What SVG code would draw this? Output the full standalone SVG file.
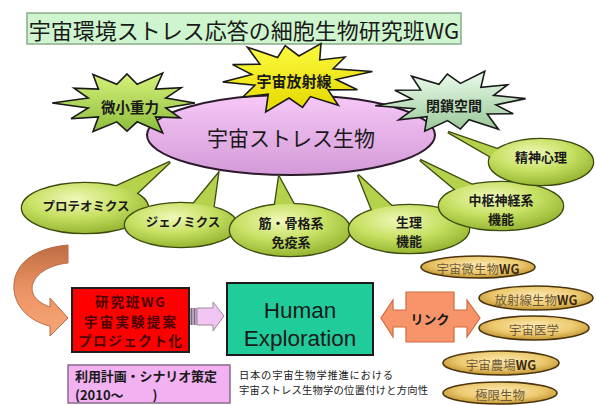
<svg xmlns="http://www.w3.org/2000/svg" width="596" height="405" viewBox="0 0 596 405">
<style>
.j{font-family:"Noto Sans CJK JP","Noto Sans",sans-serif;text-anchor:middle;dominant-baseline:central;fill:#1a1a1a}
.b{font-weight:bold}
.star{stroke:#1a1a1a;stroke-width:1.6;vector-effect:non-scaling-stroke;stroke-linejoin:miter}
.cs{fill:#a8c840;stroke:#3d4a10;stroke-width:2.6}
.cf{stroke:none}
.tail{fill:#b4d24c}
.ell{fill:url(#gGreen)}
.gold{fill:url(#gGold);stroke:#4a3510;stroke-width:1.6}
.gt{font-family:"Noto Sans CJK JP","Noto Sans",sans-serif;text-anchor:middle;dominant-baseline:central;fill:#6e5a3a;font-size:12.5px}
.red{fill:#4a0000}
</style>
<defs>
<radialGradient id="gGreen" cx="0.42" cy="0.32" r="0.75">
<stop offset="0" stop-color="#f0f8b8"/><stop offset="0.5" stop-color="#c6e062"/><stop offset="1" stop-color="#8eae2a"/>
</radialGradient>
<radialGradient id="gGold" cx="0.5" cy="0.4" r="0.6">
<stop offset="0" stop-color="#fbe8b0"/><stop offset="0.6" stop-color="#eecb72"/><stop offset="1" stop-color="#c0922c"/>
</radialGradient>
<linearGradient id="gLilac" x1="0" y1="0" x2="0" y2="1">
<stop offset="0" stop-color="#f6c8f6"/><stop offset="1" stop-color="#d49ad8"/>
</linearGradient>
<linearGradient id="gStarG" x1="0" y1="0" x2="0" y2="1">
<stop offset="0" stop-color="#d6f27a"/><stop offset="1" stop-color="#8cbc3c"/>
</linearGradient>
<linearGradient id="gStarY" x1="0" y1="0" x2="0" y2="1">
<stop offset="0" stop-color="#fbfb40"/><stop offset="1" stop-color="#e6d800"/>
</linearGradient>
<linearGradient id="gStarM" x1="0" y1="0" x2="0" y2="1">
<stop offset="0" stop-color="#eafaea"/><stop offset="1" stop-color="#98c898"/>
</linearGradient>
<linearGradient id="gOrange" x1="0" y1="0" x2="0" y2="1">
<stop offset="0" stop-color="#c06c44"/><stop offset="0.5" stop-color="#ec9464"/><stop offset="1" stop-color="#f8a676"/>
</linearGradient>
</defs>

<g id="title">
<rect x="27" y="13" width="434" height="31" fill="#cef5ce" stroke="#8aaa8a" stroke-width="1.5"/>
<text class="j" x="244" y="29" font-size="22">宇宙環境ストレス応答の細胞生物研究班WG</text>
</g>

<g id="center">
<ellipse cx="291" cy="135" rx="144" ry="40" fill="url(#gLilac)" stroke="#2a1a2a" stroke-width="2"/>
<text class="j" x="291" y="137" font-size="21">宇宙ストレス生物</text>
</g>

<g id="microgravity">
<polygon class="star" fill="url(#gStarG)" transform="translate(127,103) scale(68,33)" points="1,0 .57,.15 .78,.45 .42,.42 .525,.909 .15,.57 0,.85 -.15,.57 -.5,.866 -.42,.42 -.823,.475 -.57,.15 -1.1,0 -.57,-.15 -.779,-.45 -.42,-.42 -.5,-.866 -.15,-.57 0,-.88 .15,-.57 .525,-.909 .42,-.42 .797,-.46 .57,-.15"/>
<text class="j b" x="130" y="106" font-size="14.5">微小重力</text>
</g>

<g id="radiation">
<polygon class="star" fill="url(#gStarY)" transform="translate(294,77) scale(-72,36) rotate(8)" points="1,0 .57,.15 .78,.45 .42,.42 .525,.909 .15,.57 0,.85 -.15,.57 -.5,.866 -.42,.42 -.823,.475 -.57,.15 -1.1,0 -.57,-.15 -.779,-.45 -.42,-.42 -.5,-.866 -.15,-.57 0,-.88 .15,-.57 .525,-.909 .42,-.42 .797,-.46 .57,-.15"/>
<text class="j b" x="294" y="80" font-size="15">宇宙放射線</text>
</g>

<g id="closed">
<polygon class="star" fill="url(#gStarM)" transform="translate(454,102) scale(72,32) rotate(-6)" points="1,0 .57,.15 .78,.45 .42,.42 .525,.909 .15,.57 0,.85 -.15,.57 -.5,.866 -.42,.42 -.823,.475 -.57,.15 -1.1,0 -.57,-.15 -.779,-.45 -.42,-.42 -.5,-.866 -.15,-.57 0,-.88 .15,-.57 .525,-.909 .42,-.42 .797,-.46 .57,-.15"/>
<text class="j b" x="454" y="105" font-size="14">閉鎖空間</text>
</g>

<g id="proteomics">
<polygon class="cs" points="108,190 135,195 170,162"/>
<ellipse class="cs" cx="85" cy="208" rx="63" ry="25"/>
<polygon class="cf tail" points="108,190 135,195 170,162"/>
<ellipse class="cf ell" cx="85" cy="208" rx="63" ry="25"/>
<text class="j b" x="86" y="205" font-size="12.5">プロテオミクス</text>
</g>

<g id="genomics">
<polygon class="cs" points="190,208 213,210 218,174"/>
<ellipse class="cs" cx="181" cy="225" rx="56" ry="22"/>
<polygon class="cf tail" points="190,208 213,210 218,174"/>
<ellipse class="cf ell" cx="181" cy="225" rx="56" ry="22"/>
<text class="j b" x="183" y="221" font-size="12.5">ジェノミクス</text>
</g>

<g id="musculo">
<polygon class="cs" points="274,212 298,212 279,177"/>
<ellipse class="cs" cx="290" cy="230" rx="60" ry="26"/>
<polygon class="cf tail" points="274,212 298,212 279,177"/>
<ellipse class="cf ell" cx="290" cy="230" rx="60" ry="26"/>
<text class="j b" x="291" y="222" font-size="13">筋・骨格系</text>
<text class="j b" x="291" y="241" font-size="13">免疫系</text>
</g>

<g id="physiology">
<polygon class="cs" points="374,215 396,210 358,175"/>
<ellipse class="cs" cx="409" cy="229" rx="60" ry="24"/>
<polygon class="cf tail" points="374,215 396,210 358,175"/>
<ellipse class="cf ell" cx="409" cy="229" rx="60" ry="24"/>
<text class="j b" x="409" y="221" font-size="13">生理</text>
<text class="j b" x="409" y="240" font-size="13">機能</text>
</g>

<g id="cns">
<polygon class="cs" points="462,195 483,190 420,160"/>
<ellipse class="cs" cx="501" cy="206" rx="62" ry="24"/>
<polygon class="cf tail" points="462,195 483,190 420,160"/>
<ellipse class="cf ell" cx="501" cy="206" rx="62" ry="24"/>
<text class="j b" x="501" y="199.5" font-size="13">中枢神経系</text>
<text class="j b" x="501" y="218.5" font-size="13">機能</text>
</g>

<g id="psych">
<polygon class="cs" points="500,150 505,165 448,132"/>
<ellipse class="cs" cx="541" cy="162" rx="52" ry="23"/>
<polygon class="cf tail" points="500,150 505,165 448,132"/>
<ellipse class="cf ell" cx="541" cy="162" rx="52" ry="23"/>
<text class="j b" x="541" y="156" font-size="13">精神心理</text>
</g>

<g id="connectors">
<path d="M68,245 C32,248 12,266 14,290 C16,309 32,322 50,326 L50,336 L68,318 L50,298 L50,307 C39,303 32,297 32,288 C33,275 48,265 68,263 Z" fill="url(#gOrange)" stroke="#b86a44" stroke-width="1"/>
<rect x="189" y="308" width="8" height="17" fill="#b8a0b8"/>
<line x1="191.5" y1="308" x2="191.5" y2="325" stroke="#7a6a7a" stroke-width="1"/>
<line x1="194.5" y1="308" x2="194.5" y2="325" stroke="#7a6a7a" stroke-width="1"/>
<polygon points="197,308 213,308 213,302 224,316 213,331 213,325 197,325" fill="#f2c4f2" stroke="#9a8a9a" stroke-width="1"/>
</g>

<g id="wg-box">
<rect x="72" y="288" width="117" height="64" fill="#ff0000" stroke="#202020" stroke-width="2"/>
<text class="j b red" x="130" y="301" font-size="13.5" style="fill:#4a0000" textLength="70">研究班WG</text>
<text class="j b red" x="130" y="320.6" font-size="13.5" style="fill:#4a0000" textLength="92">宇宙実験提案</text>
<text class="j b red" x="130" y="340.2" font-size="13.5" style="fill:#4a0000" textLength="104">プロジェクト化</text>
</g>

<g id="human">
<rect x="227" y="283" width="146" height="72" fill="#20cc9a" stroke="#1a1a1a" stroke-width="2"/>
<text x="300" y="310" font-family="Liberation Sans, Arial, sans-serif" font-size="22.5" text-anchor="middle" dominant-baseline="central" fill="#1a1a1a">Human</text>
<text x="300" y="338" font-family="Liberation Sans, Arial, sans-serif" font-size="22.5" text-anchor="middle" dominant-baseline="central" fill="#1a1a1a">Exploration</text>
</g>

<g id="link">
<polygon points="406,292 454,292 454,310 467,310 467,300 480,318 467,337 467,327 454,327 454,342 406,342 406,327 393,327 393,337 381,318 393,300 393,310 406,310" fill="#f8946a" stroke="#d06a40" stroke-width="1.2"/>
<text class="j b" x="430" y="318" font-size="13">リンク</text>
</g>

<g id="plan">
<rect x="68" y="365" width="162" height="38" fill="#f2b2f2" stroke="#8a6a8a" stroke-width="1.5"/>
<text class="j b" x="75" y="375" font-size="13" style="text-anchor:start" textLength="142">利用計画・シナリオ策定</text>
<text class="j b" x="75" y="394" font-size="13" style="text-anchor:start">(2010～　　 )</text>
</g>

<g id="caption">
<text class="j" x="239" y="374.5" font-size="10.3" style="text-anchor:start" textLength="154">日本の宇宙生物学推進における</text>
<text class="j" x="239" y="389.5" font-size="10.3" style="text-anchor:start" textLength="189">宇宙ストレス生物学の位置付けと方向性</text>
</g>

<g id="wg-micro">
<ellipse class="gold" cx="478" cy="267" rx="57" ry="11"/>
<text class="gt" x="478" y="268">宇宙微生物<tspan font-weight="bold" fill="#3a2a10">WG</tspan></text>
</g>
<g id="wg-rad">
<ellipse class="gold" cx="536" cy="298" rx="57" ry="12"/>
<text class="gt" x="536" y="299">放射線生物<tspan font-weight="bold" fill="#3a2a10">WG</tspan></text>
</g>
<g id="space-med">
<ellipse class="gold" cx="534" cy="328" rx="55" ry="12"/>
<text class="gt" x="534" y="329">宇宙医学</text>
</g>
<g id="wg-farm">
<ellipse class="gold" cx="501" cy="363" rx="58" ry="12"/>
<text class="gt" x="501" y="364">宇宙農場<tspan font-weight="bold" fill="#3a2a10">WG</tspan></text>
</g>
<g id="extremo">
<ellipse class="gold" cx="500" cy="393" rx="57" ry="11"/>
<text class="gt" x="500" y="394">極限生物</text>
</g>
</svg>
